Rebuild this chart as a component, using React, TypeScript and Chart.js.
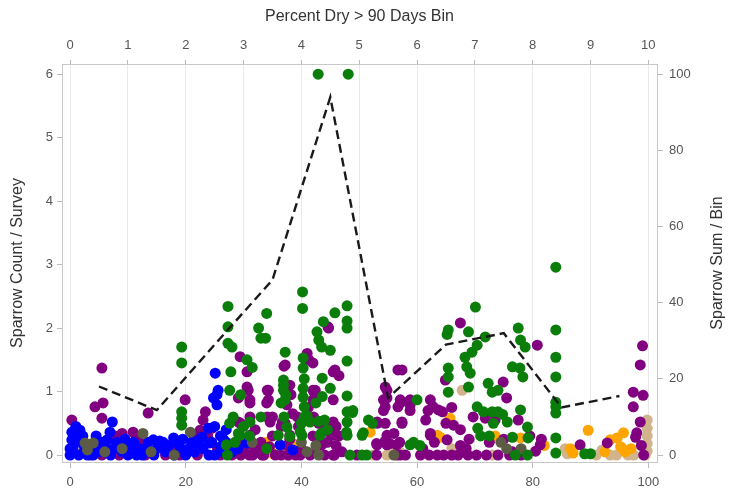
import React, { useEffect, useRef } from "react";
import { Chart, registerables } from "chart.js";

Chart.register(...registerables);

// ---- Data ----
const bottomTicks = [0, 20, 40, 60, 80, 100];
const topTicks = [0, 1, 2, 3, 4, 5, 6, 7, 8, 9, 10];
const leftTicks = [0, 1, 2, 3, 4, 5, 6];
const rightTicks = [0, 20, 40, 60, 80, 100];

// bin centers (Percent Dry) and Sparrow Sum / Bin
const binCenters = [5, 15, 25, 35, 45, 55, 65, 75, 85, 95];
const binSums = [18, 11.8, 29, 46, 94, 15, 29, 32, 12.5, 15.5];

const bluePts: [number, number][] = [
  [0, 0], [0, 0.1], [0.3, 0.24], [0.3, 0.36], [0.5, 0.13], [1.7, 0.39], [2, 0.19], [1.5, 0], [2.5, 0.08], [3, 0],
  [4.5, 0.3], [5, 0.05], [6.4, 0.24], [6.9, 0.36], [7.3, 0.52], [7, 0], [7.5, 0.1], [8, 0.2], [9, 0.05], [10, 0],
  [10.5, 0.15], [11.5, 0], [12, 0.1], [13, 0.1], [14.4, 0.24], [14.5, 0], [15, 0.1], [16.1, 0.2], [16.5, 0.05],
  [17.9, 0.27], [18, 0], [19, 0.12], [20, 0], [21, 0.2], [21.5, 0.05], [22.5, 0.15], [22.8, 0.28], [23.9, 0.42],
  [24.2, 0.19], [24, 0], [24.5, 0.2], [25.1, 1.29], [25.4, 0.95], [24.8, 0.9], [25.4, 0.79], [25.6, 1.02],
  [25, 0.45], [26, 0.3], [26, 0.13], [26.5, 0.05], [27, 0.2], [28, 0.05], [30.5, 0.19], [36.3, 0.16], [38.5, 0.08],
  [1, 0.25], [2.2, 0.3], [3.5, 0.15], [1, 0.45], [4, 0], [5.5, 0.2], [6, 0.1], [8.5, 0.12], [9.5, 0.25],
  [11, 0.2], [12.5, 0], [13.5, 0.2], [15.5, 0.22], [17, 0.15], [18.5, 0.2], [19.5, 0.25], [20.5, 0.1],
  [22, 0.22], [23, 0.1], [25, 0], [26.5, 0.25], [27, 0.4], [29, 0.1],
];

const greenPts: [number, number][] = [
  [42.9, 6], [48.1, 6],
  [19.3, 1.7], [19.3, 1.45], [19.3, 0.68], [19.3, 0.58], [19.3, 0.47],
  [27.3, 2.34], [27.3, 2.02], [27.3, 1.76], [28, 1.7], [27.8, 1.31], [27.6, 1.02], [28.2, 0.6], [27.6, 0.5],
  [29.1, 0.34], [28.5, 0.2],
  [30.6, 1.5], [31.5, 1.38], [32.6, 2.0], [33.8, 1.84], [33, 1.84], [34, 2.23], [29.5, 0.95], [30, 0.45],
  [31, 0.3], [33, 0.6], [34, 0.1],
  [37.2, 1.62], [36.9, 1.18], [36.9, 1.1], [37.3, 0.95], [36.5, 0.82], [37, 0.6], [37.5, 0.44], [38, 0.29],
  [40.2, 2.57], [40.2, 2.31], [40.3, 1.53], [40.3, 1.37], [40.5, 1.2], [40.3, 1.05], [40.3, 0.91], [40.5, 0.76],
  [40, 0.5], [39.8, 0.37], [41, 0.55], [41, 0.62],
  [42.7, 1.94], [43, 1.81], [43.5, 1.7], [43.8, 2.1], [45, 1.65], [43.6, 1.21], [43.6, 0.92], [42.5, 0.82],
  [43, 0.53], [44, 0.55], [45.8, 2.24], [45, 1.05], [44.5, 0.4], [43.5, 0.35],
  [47.9, 2.35], [47.9, 2.11], [47.9, 2.0], [47.9, 1.48], [47.9, 0.93], [47.9, 0.68], [48.8, 0.67], [47.8, 0.36],
  [50.7, 0.35], [51.6, 0.55], [52.3, 0.5], [48.4, 0], [50.5, 0], [51.3, 0],
  [59.4, 0.2], [60.5, 0.15], [65.2, 1.9], [65.4, 1.97], [65.4, 1.37], [65.4, 1.23], [65.4, 0.99],
  [70.1, 2.33], [68.9, 1.94], [71.8, 1.86], [70.4, 1.73], [68.3, 1.54], [69.5, 1.62], [68.6, 1.39], [69.2, 1.29],
  [68.9, 1.07], [72.3, 1.13], [73, 0.99], [74, 1.02], [70.4, 0.76], [71.5, 0.68], [73, 0.68], [74, 0.68],
  [74.8, 0.64], [75.6, 0.52], [73.2, 0.5], [70.5, 0.42], [71, 0.3], [72.5, 0.3],
  [77.5, 2.0], [77.9, 1.81], [78.7, 1.7], [76.5, 1.39], [77.8, 1.37], [78.3, 1.23], [77.9, 0.71], [79.1, 0.44],
  [79.2, 0.27], [76.5, 0.28], [79.1, 0], [77, 0],
  [84, 2.96], [84, 1.97], [84, 1.54], [84, 1.23], [84, 0.83], [84, 0.76], [84, 0.66], [84, 0.27], [84, 0.03],
  [90, 0.02], [89, 0.02],
  [27.2, 0], [27, 0.16], [29.4, 0.31], [36, 0.31], [40.1, 0.31], [43.2, 0.31], [47.9, 0.31], [50.5, 0.31],
  [31.1, 0.52], [40.1, 0.52], [41.5, 0.52], [47.9, 0.52], [40.5, 0.6], [48.9, 0.7], [37.2, 0.87],
  [60, 0.87], [36.9, 1.02], [58.8, 0.16],
];

const purplePts: [number, number][] = [
  [0.3, 0.55], [5.5, 1.37], [4.3, 0.76], [5.7, 0.82], [5.5, 0.58], [9, 0.34], [10.9, 0.36], [13.5, 0.66],
  [5.5, 0], [8.5, 0], [13, 0], [16.5, 0], [4, 0.1], [6, 0.15], [9.5, 0.12], [12, 0.2], [11, 0.05], [15.5, 0.12],
  [17.5, 0.1], [3.5, 0], [7.8, 0.3], [11.5, 0.3],
  [19.9, 0.87], [23.4, 0.68], [23, 0.55], [22.5, 0.39], [21, 0.12], [22, 0], [23.8, 0.3], [25.5, 0.1], [26, 0],
  [24.5, 0.42], [21.5, 0.28], [19, 0],
  [29.4, 1.55], [30.6, 1.31], [30.6, 1.07], [29.1, 0.9], [29.5, 0.5], [31.1, 0.82], [31.1, 0.6], [34.3, 1.02],
  [34, 0.82], [35, 0.6], [32, 0.4], [33, 0.2], [30, 0.1], [31, 0], [33.5, 0], [35, 0.3], [28, 0], [29, 0.2],
  [32.5, 0.05], [34.5, 0.13], [35.5, 0],
  [37.2, 1.42], [37, 1.4], [38, 1.1], [37.5, 0.79], [38.2, 0.95], [36.5, 0.45], [37.2, 0.5], [38, 0.25], [39, 0],
  [36.5, 0], [37.5, 0.15], [39.5, 0.45], [40, 0.1], [38.5, 0.65],
  [41, 1.6], [41.3, 1.5], [42, 1.45], [42, 1.02], [42.3, 0.98], [44.6, 2.02], [44.7, 2.0], [45.5, 1.31],
  [45.8, 1.34], [46.5, 1.25], [45.5, 0.87], [41.2, 0.75], [41.8, 0.55], [43, 0.5], [44, 0.5], [44.8, 0.36],
  [43, 0.25], [44.5, 0.2], [46, 0.15], [41.5, 0], [42.5, 0.05], [44, 0], [45.5, 0], [46.5, 0.3], [42, 0.3],
  [53.1, 0.5], [54.5, 1.07], [54.8, 0.9], [54.5, 0.76], [56.7, 1.34], [57.4, 1.34], [56.7, 0.76], [57.1, 0.82],
  [58.8, 0.79], [54.5, 0.5], [57.4, 0.5], [53, 0.18], [54.5, 0.22], [55.3, 0.18], [56, 0.34], [57, 0.2],
  [49.6, 0], [53, 0], [56.5, 0], [58, 0], [47, 0.05], [46, 0.45],
  [62.3, 0.87], [62.8, 0.76], [63.7, 0.71], [64.4, 0.68], [62.3, 0.34], [65.2, 0.24], [66.3, 0.47], [64.9, 1.18],
  [67.5, 2.08], [65, 0.5], [60.6, 0], [62.1, 0], [63.5, 0], [64.6, 0], [66, 0], [67.1, 0], [68.8, 0], [70.3, 0],
  [69.7, 0.6], [67.5, 0.15], [61, 0.1], [69, 0.25],
  [71.8, 0.58], [74.9, 1.15], [75.5, 0.9], [73.5, 0.55], [72.5, 0.2], [75, 0.25], [77.5, 0.55], [80.8, 1.73],
  [79.5, 0.3], [80.5, 0.06], [81.3, 0.16], [72, 0], [74, 0], [76, 0], [78, 0], [81.5, 0.25], [76.5, 0.05],
  [88.2, 0.16], [92.9, 0.19], [97.4, 0.99], [99.1, 0.94], [97.4, 0.76], [99, 1.72], [98.6, 1.42], [98.6, 0.52],
  [97.8, 0.28], [98.8, 0.15], [99.2, 0], [98, 0.35],
  [29.5, 0], [31.6, 0], [33.2, 0], [37.7, 0], [39.8, 0], [45.7, 0], [57.1, 0],
  [31.5, 0.16], [32.5, 0.16], [43.5, 0.16], [53.1, 0.16], [54.8, 0.16], [56.5, 0.16],
  [31.1, 0.31], [38, 0.31], [45.5, 0.31], [54.8, 0.31], [62.3, 0.31],
  [29.1, 0.52], [34.6, 0.52], [36.7, 0.52], [45.5, 0.52], [53.1, 0.52], [57.4, 0.52],
  [34.1, 0.6], [39.3, 0.6], [42.1, 0.6], [54.2, 0.7], [58.8, 0.7], [61.9, 0.7],
  [31.1, 0.87], [34.3, 0.87], [42, 0.87], [54.2, 0.87], [57.1, 0.87], [58.8, 0.87],
  [30.8, 1.02], [34.1, 1.02], [42.4, 1.02], [54.8, 1.02],
  [61.5, 0.55], [63, 0.2], [66, 0.75], [67.5, 0.4], [68.5, 0.1],
];

const orangePts: [number, number][] = [
  [89.6, 0.39], [77.9, 0.27], [65.7, 0.58], [63.5, 0.31], [87, 0.03], [86.5, 0.1], [93.4, 0.24], [94.6, 0.27],
  [95.7, 0.35], [95.2, 0.13], [96, 0.05], [92.5, 0.05], [97, 0.1], [39, 0.16], [43.8, 0.19], [35.1, 0.02],
  [38.6, 0.16], [51.9, 0.36], [64, 0.28], [30.3, 0.16], [82, 0.15], [73.5, 0.3], [34, 0.2],
];

const tanPts: [number, number][] = [
  [99.8, 0.55], [99.8, 0.42], [99.8, 0.3], [99.8, 0.18], [99.8, 0.06], [99.5, 0], [93.4, 0], [94.5, 0],
  [95.5, 0.1], [96.5, 0], [97.5, 0], [92, 0.08], [91, 0], [52.4, 0], [54.8, 0], [55.3, 0.05], [73, 0],
  [67.8, 1.02], [85.6, 0.1], [86, 0.02], [2, 0.05], [3.8, 0.03], [57, 0.05], [38, 0], [66, 0.1],
];

const grayPts: [number, number][] = [
  [2.6, 0.19], [4, 0.19], [3, 0.08], [12.6, 0.34], [9, 0.1], [18, 0], [20.8, 0.36], [14, 0.05], [6, 0.05],
  [74.5, 0.2], [75.5, 0.1], [41, 0.05], [43, 0], [40, 0.2], [56, 0], [31.5, 0.2], [42.5, 0.15], [78, 0.1],
];

const FONT = "'Liberation Sans', Arial, sans-serif";

const toXY = (a: [number, number][]) => a.map(([x, y]) => ({ x, y }));

export default function App() {
  const ref = useRef<HTMLCanvasElement | null>(null);

  useEffect(() => {
    document.body.style.margin = "0";
    const canvas = ref.current;
    if (!canvas) return;

    const rightTitle = {
      id: "rightTitle",
      afterDraw(chart: any) {
        const ctx = chart.ctx;
        const area = chart.chartArea;
        ctx.save();
        ctx.translate(718, (area.top + area.bottom) / 2);
        ctx.rotate(-Math.PI / 2);
        ctx.font = `16px ${FONT}`;
        ctx.fillStyle = "#333";
        ctx.textAlign = "center";
        ctx.textBaseline = "middle";
        ctx.fillText("Sparrow Sum / Bin", 0, 0);
        ctx.restore();
      },
    };

    const scatterDs = (label: string, pts: [number, number][], color: string, order: number) => ({
      type: "scatter" as const,
      label,
      data: toXY(pts),
      backgroundColor: color,
      borderColor: color,
      borderWidth: 0,
      pointRadius: 5.5,
      pointHoverRadius: 5.5,
      xAxisID: "x",
      yAxisID: "y",
      order,
    });

    const tickFont = { size: 13, family: FONT };

    const chart = new Chart(canvas, {
      type: "scatter",
      data: {
        datasets: [
          {
            type: "scatter" as const,
            label: "Sum",
            data: binCenters.map((x, i) => ({ x, y: binSums[i] })),
            showLine: true,
            borderColor: "#1a1a1a",
            borderWidth: 2.4,
            borderDash: [9, 5],
            pointRadius: 0,
            fill: false,
            xAxisID: "x",
            yAxisID: "y2",
            order: 0,
          } as any,
          scatterDs("green", greenPts, "#0b7d0b", 1),
          scatterDs("gray", grayPts, "#5c5c46", 2),
          scatterDs("blue", bluePts, "#0000ff", 3),
          scatterDs("purple", purplePts, "#800080", 4),
          scatterDs("orange", orangePts, "#ffa500", 5),
          scatterDs("tan", tanPts, "#d2b48c", 6),
        ],
      },
      options: {
        responsive: false,
        animation: false,
        events: [],
        layout: { padding: 0 },
        plugins: { legend: { display: false }, tooltip: { enabled: false } },
        scales: {
          x: {
            type: "linear",
            position: "bottom",
            min: -1.4,
            max: 101.5,
            afterBuildTicks: (s: any) => {
              s.ticks = bottomTicks.map((v) => ({ value: v }));
            },
            afterFit: (s: any) => {
              s.height = 33;
            },
            grid: { drawOnChartArea: false, tickLength: 6, tickColor: "#bbbbbb" },
            border: { color: "#c8c8c8" },
            ticks: { padding: 7, color: "#555", font: tickFont, callback: (v: any) => String(v), maxRotation: 0 },
          },
          x2: {
            type: "linear",
            position: "top",
            min: -0.14,
            max: 10.15,
            afterBuildTicks: (s: any) => {
              s.ticks = topTicks.map((v) => ({ value: v }));
            },
            afterFit: (s: any) => {
              s.height = 64;
            },
            grid: { drawOnChartArea: true, color: "#e9e9e9", tickLength: 4, tickColor: "#bbbbbb" },
            border: { color: "#c8c8c8" },
            ticks: { padding: 7, color: "#555", font: tickFont, callback: (v: any) => String(v), maxRotation: 0 },
            title: {
              display: true,
              text: "Percent Dry > 90 Days Bin",
              color: "#333",
              font: { size: 16, family: FONT },
              padding: { top: 7, bottom: 0 },
            },
          },
          y: {
            type: "linear",
            position: "left",
            min: -0.11,
            max: 6.16,
            afterBuildTicks: (s: any) => {
              s.ticks = leftTicks.map((v) => ({ value: v }));
            },
            afterFit: (s: any) => {
              s.width = 62;
            },
            grid: { drawOnChartArea: false, tickLength: 5, tickColor: "#bbbbbb" },
            border: { color: "#c8c8c8" },
            ticks: { padding: 4, color: "#555", font: tickFont, callback: (v: any) => String(v) },
            title: {
              display: true,
              text: "Sparrow Count / Survey",
              color: "#333",
              font: { size: 16, family: FONT },
              padding: { top: 8, bottom: 0 },
            },
          },
          y2: {
            type: "linear",
            position: "right",
            min: -1.83,
            max: 102.7,
            afterBuildTicks: (s: any) => {
              s.ticks = rightTicks.map((v) => ({ value: v }));
            },
            afterFit: (s: any) => {
              s.width = 77;
            },
            grid: { drawOnChartArea: false, tickLength: 6, tickColor: "#bbbbbb" },
            border: { color: "#c8c8c8" },
            ticks: { padding: 6, color: "#555", font: tickFont, callback: (v: any) => String(v) },
          },
        },
      } as any,
      plugins: [rightTitle],
    });

    return () => chart.destroy();
  }, []);

  return (
    <div style={{ width: 734, height: 495, background: "#fff" }}>
      <canvas ref={ref} width={734} height={495} style={{ display: "block" }} />
    </div>
  );
}
